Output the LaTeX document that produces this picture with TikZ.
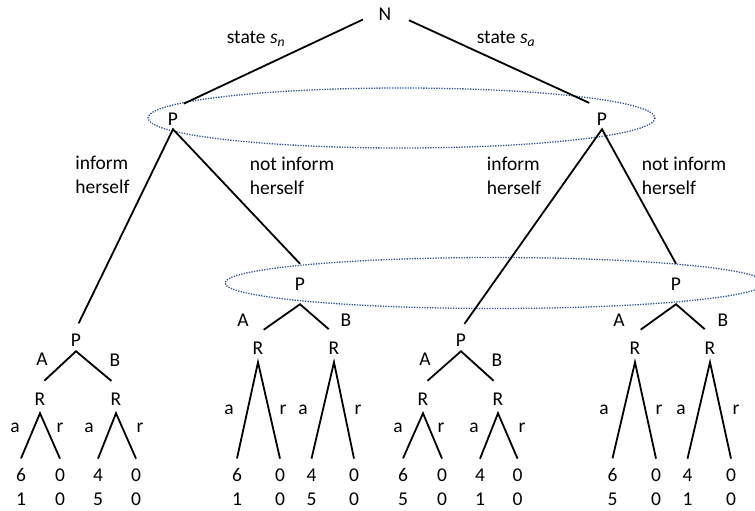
\documentclass[tikz,border=0pt]{standalone}
\usepackage{fontspec}
\setmainfont{Carlito}
\definecolor{infoblue}{RGB}{47,85,151}

\begin{document}
\begin{tikzpicture}[
    x=1pt, y=-1pt,
    font=\fontsize{19.5}{24}\selectfont,
    mover/.style={inner sep=0pt, outer sep=4pt},
    infomover/.style={inner sep=0pt, outer sep=14pt},
    lowmover/.style={inner sep=0pt, outer sep=5pt},
    resp/.style={inner sep=0pt, outer sep=8pt},
    payoff/.style={inner sep=0pt, outer sep=10pt, align=center},
    lab/.style={inner sep=0pt, align=left},
    branch/.style={line width=1.8pt},
    infoset/.style={draw=infoblue, line width=1.3pt, dash pattern=on 1.3pt off 1.3pt}
]
\useasboundingbox (0,0) rectangle (755,511);

% Information sets
\draw[infoset] (401.5,118) ellipse [x radius=253.5, y radius=30];
\draw[infoset] (495,283) ellipse [x radius=270, y radius=25.5];

% Nature and first moves
\node[mover] (N) at (385,14) {N};
\node[mover] (Pn) at (173,119) {P};
\node[mover] (Pa) at (602,119) {P};
\node[lab] (sn) at (256,39) {state \textit{s}\textsubscript{\textit{n}}};
\node[lab] (sa) at (506,39) {state \textit{s}\textsubscript{\textit{a}}};

\draw[branch, shorten <=13pt, shorten >=12pt] (N.west) -- (Pn.north);
\draw[branch, shorten <=15pt, shorten >=14pt] (N.east) -- (Pa.north);

% Inform herself or not
\node[lowmover] (Pin) at (76,340) {P};
\node[infomover] (Pnn) at (300,284) {P};
\node[lowmover] (Pia) at (461,340) {P};
\node[infomover] (Pna) at (676,284) {P};

\node[lab] (in-n) at (102.5,175) {inform\\herself};
\node[lab] (nin-n) at (292,176) {not inform\\herself};
\node[lab] (in-a) at (514,176) {inform\\herself};
\node[lab] (nin-a) at (684,176) {not inform\\herself};

\draw[branch, shorten <=6pt] (Pin.north) -- (Pn.south) -- (Pnn.north);
\draw[branch, shorten <=6pt] (Pia.north) -- (Pa.south) -- (Pna.north);

% Subtree: state n, informed
\node[resp] (Rin1) at (40,399) {R};
\node[resp] (Rin2) at (116,399) {R};
\node[lab] at (42,359) {A};
\node[lab] at (115,360) {B};
\node[payoff] (in1a) at (21,487) {6\\1};
\node[payoff] (in1r) at (60,487) {0\\0};
\node[payoff] (in2a) at (98,487) {4\\5};
\node[payoff] (in2r) at (136,487) {0\\0};
\node[lab] at (15,428) {a};
\node[lab] at (60,428) {r};
\node[lab] at (89,428) {a};
\node[lab] at (140,428) {r};
\draw[branch, shorten <=6pt, shorten >=6pt] (Rin1.north) -- (Pin.south) -- (Rin2.north);
\draw[branch] (in1a.north) -- (Rin1.south) -- (in1r.north);
\draw[branch] (in2a.north) -- (Rin2.south) -- (in2r.north);

% Subtree: state n, not informed
\node[resp] (Rnn1) at (258,348) {R};
\node[resp] (Rnn2) at (334,348) {R};
\node[lab] at (243,320) {A};
\node[lab] at (346,320) {B};
\node[payoff] (nn1a) at (237,487) {6\\1};
\node[payoff] (nn1r) at (280,487) {0\\0};
\node[payoff] (nn2a) at (311.5,487) {4\\5};
\node[payoff] (nn2r) at (354,487) {0\\0};
\node[lab] at (229,410) {a};
\node[lab] at (283,410) {r};
\node[lab] at (303,410) {a};
\node[lab] at (358,410) {r};
\draw[branch, shorten <=7pt, shorten >=7pt] (Rnn1.north) -- (Pnn.south) -- (Rnn2.north);
\draw[branch] (nn1a.north) -- (Rnn1.south) -- (nn1r.north);
\draw[branch] (nn2a.north) -- (Rnn2.south) -- (nn2r.north);

% Subtree: state a, informed
\node[resp] (Ria1) at (423,399) {R};
\node[resp] (Ria2) at (498,399) {R};
\node[lab] at (425,359) {A};
\node[lab] at (497,360) {B};
\node[payoff] (ia1a) at (403,487) {6\\5};
\node[payoff] (ia1r) at (442,487) {0\\0};
\node[payoff] (ia2a) at (480,487) {4\\1};
\node[payoff] (ia2r) at (517.5,487) {0\\0};
\node[lab] at (398,428) {a};
\node[lab] at (441,428) {r};
\node[lab] at (474,428) {a};
\node[lab] at (522,428) {r};
\draw[branch, shorten <=6pt, shorten >=6pt] (Ria1.north) -- (Pia.south) -- (Ria2.north);
\draw[branch] (ia1a.north) -- (Ria1.south) -- (ia1r.north);
\draw[branch] (ia2a.north) -- (Ria2.south) -- (ia2r.north);

% Subtree: state a, not informed
\node[resp] (Rna1) at (635,348) {R};
\node[resp] (Rna2) at (710,348) {R};
\node[lab] at (619,320) {A};
\node[lab] at (723,320) {B};
\node[payoff] (na1a) at (612.5,487) {6\\5};
\node[payoff] (na1r) at (656,487) {0\\0};
\node[payoff] (na2a) at (687.5,487) {4\\1};
\node[payoff] (na2r) at (731,487) {0\\0};
\node[lab] at (604,410) {a};
\node[lab] at (659,410) {r};
\node[lab] at (681,410) {a};
\node[lab] at (736,410) {r};
\draw[branch, shorten <=7pt, shorten >=7pt] (Rna1.north) -- (Pna.south) -- (Rna2.north);
\draw[branch] (na1a.north) -- (Rna1.south) -- (na1r.north);
\draw[branch] (na2a.north) -- (Rna2.south) -- (na2r.north);

\end{tikzpicture}
\end{document}
